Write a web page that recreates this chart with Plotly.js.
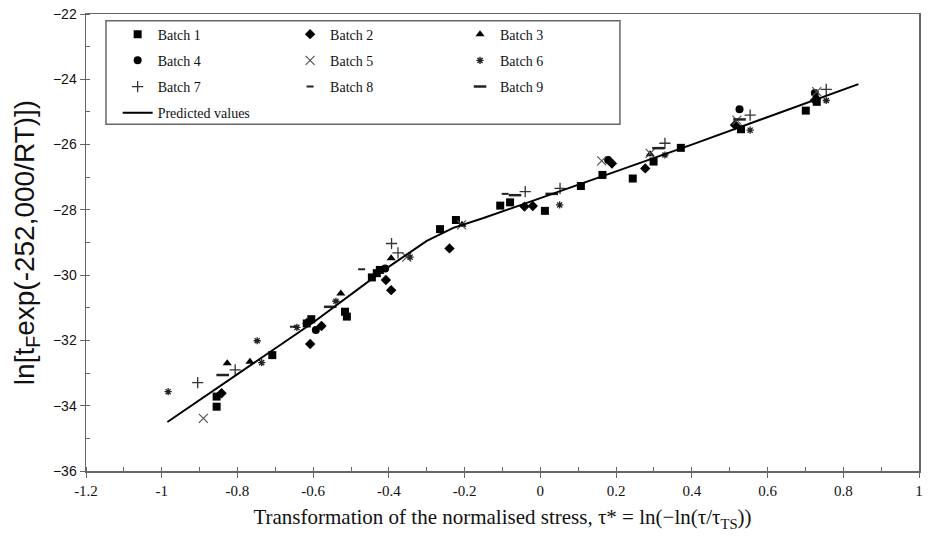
<!DOCTYPE html>
<html>
<head>
<meta charset="utf-8">
<script src="https://cdn.plot.ly/plotly-3.0.1.min.js"></script>
<style>html,body{margin:0;padding:0;background:#fff;}#chart{width:930px;height:536px;}</style>
</head>
<body>
<div id="chart"></div>
<script>
// ---- Data ----
const batch1X = [-0.855,-0.855,-0.708,-0.617,-0.605,-0.516,-0.511,-0.445,-0.432,-0.424,-0.265,-0.223,-0.106,-0.08,0.012,0.107,0.164,0.244,0.299,0.371,0.53,0.701,0.73];
const batch1Y = [-33.72,-34.03,-32.45,-31.48,-31.35,-31.12,-31.27,-30.07,-29.94,-29.84,-28.59,-28.31,-27.87,-27.77,-28.03,-27.27,-26.93,-27.04,-26.52,-26.1,-25.53,-24.96,-24.69];
const batch2X = [-0.842,-0.608,-0.578,-0.408,-0.394,-0.24,-0.042,-0.02,0.189,0.277,0.514,0.725];
const batch2Y = [-33.62,-32.11,-31.56,-30.15,-30.46,-29.18,-27.9,-27.88,-26.58,-26.73,-25.4,-24.64];
const batch3X = [-0.827,-0.767,-0.617,-0.527,-0.394,-0.207,0.29,0.73];
const batch3Y = [-32.7,-32.65,-31.43,-30.56,-29.48,-28.46,-26.3,-24.55];
const batch4X = [-0.593,-0.41,0.179,0.526,0.725];
const batch4Y = [-31.68,-29.8,-26.47,-24.92,-24.42];
const batch5X = [-0.89,-0.353,-0.208,0.162,0.29,0.519,0.73];
const batch5Y = [-34.39,-29.45,-28.46,-26.5,-26.27,-25.25,-24.38];
const batch6X = [-0.983,-0.748,-0.736,-0.643,-0.54,-0.344,0.051,0.329,0.554,0.755];
const batch6Y = [-33.57,-32.01,-32.68,-31.6,-30.8,-29.45,-27.85,-26.32,-25.56,-24.65];
const batch7X = [-0.905,-0.806,-0.393,-0.376,-0.04,0.052,0.329,0.554,0.755];
const batch7Y = [-33.29,-32.9,-29.03,-29.32,-27.44,-27.34,-25.96,-25.1,-24.31];
const batch8X = [-0.652,-0.472,-0.093];
const batch8Y = [-31.58,-29.82,-27.51];
const batch9X = [-0.839,-0.555,-0.067,0.03,0.312,0.526];
const batch9Y = [-33.06,-30.97,-27.55,-27.51,-26.11,-25.23];
const predX = [-0.985,-0.6,-0.42,-0.3,-0.23,-0.15,0,0.4,0.84];
const predY = [-34.5,-31.45,-29.9,-28.95,-28.55,-28.25,-27.64,-26.0,-24.15];

const xTickVals = [-1.2,-1,-0.8,-0.6,-0.4,-0.2,0,0.2,0.4,0.6,0.8,1];
const xTickText = ['-1.2','-1','-0.8','-0.6','-0.4','-0.2','0','0.2','0.4','0.6','0.8','1'];
const yTickVals = [-36,-34,-32,-30,-28,-26,-24,-22];

const serif = 'Liberation Serif, Times New Roman, serif';
const sans = 'Liberation Sans, Arial, sans-serif';

function batch(name, x, y, marker, legend, group) {
  return {type:'scatter', mode:'markers', name:name, x:x, y:y, marker:marker,
          legend:legend, legendgroup:group, hoverinfo:'skip'};
}

const traces = [
  batch('Batch 1', batch1X, batch1Y, {symbol:'square', size:8, color:'#000'}, 'legend', 'g1'),
  batch('Batch 2', batch2X, batch2Y, {symbol:'diamond', size:8, color:'#000'}, 'legend2', 'g2'),
  batch('Batch 3', batch3X, batch3Y, {symbol:'triangle-up', size:8, color:'#000'}, 'legend3', 'g3'),
  batch('Batch 4', batch4X, batch4Y, {symbol:'circle', size:8, color:'#000'}, 'legend', 'g4'),
  batch('Batch 5', batch5X, batch5Y, {symbol:'x-thin-open', size:9, color:'#555', line:{width:1.2}}, 'legend2', 'g5'),
  batch('Batch 6', batch6X, batch6Y, {symbol:'asterisk-open', size:6, color:'#222', line:{width:1.3}}, 'legend3', 'g6'),
  batch('Batch 7', batch7X, batch7Y, {symbol:'cross-thin-open', size:8, color:'#333', line:{width:1.3}}, 'legend', 'g7'),
  batch('Batch 8', batch8X, batch8Y, {symbol:'line-ew-open', size:5, color:'#222', line:{width:2}}, 'legend2', 'g8'),
  batch('Batch 9', batch9X, batch9Y, {symbol:'line-ew-open', size:9, color:'#222', line:{width:2.5}}, 'legend3', 'g9'),
  {type:'scatter', mode:'lines', name:'Predicted values', x:predX, y:predY,
   line:{color:'#000', width:2}, legend:'legend', legendgroup:'g10', hoverinfo:'skip'}
];

const legendCommon = {
  bgcolor:'rgba(0,0,0,0)', borderwidth:0, orientation:'v',
  font:{family:serif, size:14, color:'#111'}, tracegroupgap:5,
  xanchor:'left', yanchor:'top', itemclick:false
};

const layout = {
  width:930, height:536,
  margin:{l:86, r:11, t:14, b:65},
  paper_bgcolor:'#fff', plot_bgcolor:'#fff',
  showlegend:true,
  legend: Object.assign({}, legendCommon, {x:0.038, y:0.99}),
  legend2: Object.assign({}, legendCommon, {x:0.245, y:0.99}),
  legend3: Object.assign({}, legendCommon, {x:0.449, y:0.99}),
  shapes:[{type:'rect', xref:'paper', yref:'paper', x0:0.024, x1:0.641, y0:0.759, y1:0.985,
           line:{color:'#666', width:1.5}, fillcolor:'rgba(0,0,0,0)'}],
  xaxis:{
    range:[-1.2,1], tickmode:'array', tickvals:xTickVals, ticktext:xTickText,
    showgrid:false, zeroline:false, showline:true, linecolor:'#666', linewidth:1.5, mirror:true,
    ticks:'outside', ticklen:5, tickcolor:'#666',
    minor:{dtick:0.1, ticks:'inside', ticklen:4, tickcolor:'#666', showgrid:false},
    tickfont:{family:serif, size:15, color:'#111'},
    title:{text:'Transformation of the normalised stress, τ* = ln(−ln(τ/τ<sub>TS</sub>))',
           font:{family:serif, size:21, color:'#111'}, standoff:12}
  },
  yaxis:{
    range:[-36,-22], tickmode:'array', tickvals:yTickVals,
    showgrid:false, zeroline:false, showline:true, linecolor:'#666', linewidth:1.5, mirror:true,
    ticks:'outside', ticklen:5, tickcolor:'#666',
    minor:{dtick:1, ticks:'inside', ticklen:4, tickcolor:'#666', showgrid:false},
    tickfont:{family:sans, size:14, color:'#111'},
    title:{text:'ln[t<sub>F</sub>exp(-252,000/RT)])', font:{family:sans, size:28, color:'#111'}, standoff:10}
  }
};

Plotly.newPlot('chart', traces, layout, {displayModeBar:false, staticPlot:true});
</script>
</body>
</html>
